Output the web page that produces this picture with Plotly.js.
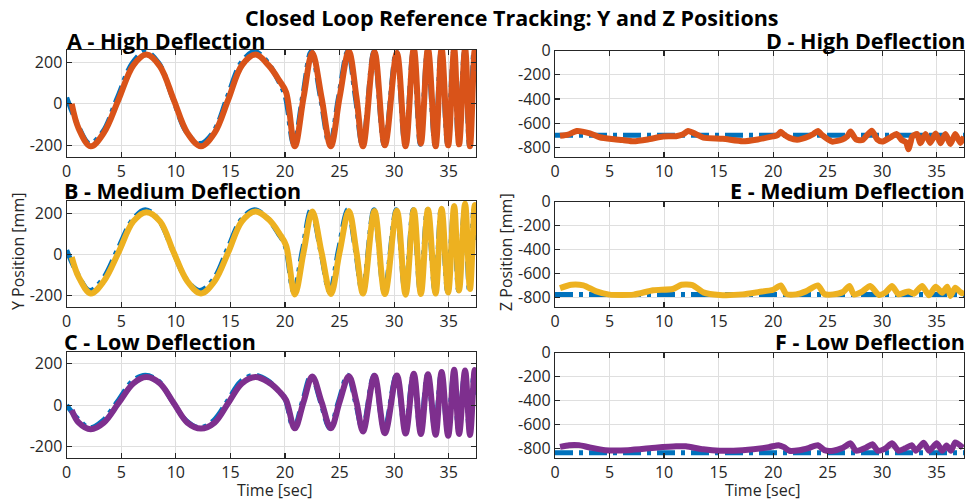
<!DOCTYPE html>
<html>
<head>
<meta charset="utf-8">
<script src="https://cdn.plot.ly/plotly-3.0.1.min.js"></script>
<style>html,body{margin:0;padding:0;background:#fff;}#chart{width:966px;height:502px;}</style>
</head>
<body>
<div id="chart"></div>
<script>
// ---- Data ----
const titleMain = "Closed Loop Reference Tracking: Y and Z Positions";
const panelTitles = ["A - High Deflection", "D - High Deflection", "B - Medium Deflection", "E - Medium Deflection", "C - Low Deflection", "F - Low Deflection"];
const xTicks = [0, 5, 10, 15, 20, 25, 30, 35];
const yTicksY = [-200, 0, 200];
const yTicksZ = [-800, -600, -400, -200, 0];

// time stamps (s) of reference Y points
const tYref = [0, 1.0, 2.1, 3.3, 4.65, 6.0, 7.2, 8.45, 9.7, 10.95, 12.2, 13.45, 14.7, 15.95, 17.2, 18.4, 19.4, 20.0, 20.8, 21.6, 22.4, 23.25, 24.1, 24.9, 25.75, 26.45, 27.1, 28.15, 29.1, 30.2, 31.0, 31.75, 32.4, 33.05, 33.75, 34.3, 34.9, 35.45, 35.9, 36.45, 36.9, 37.3, 37.5];
// time stamps (s) of measured Y points
const tYact = [0.46, 1.1, 2.2, 3.4, 4.75, 6.1, 7.3, 8.55, 9.8, 11.05, 12.3, 13.55, 14.8, 16.05, 17.3, 18.5, 19.5, 20.1, 20.9, 21.7, 22.5, 23.35, 24.2, 25.0, 25.85, 26.55, 27.15, 28.2, 29.15, 30.25, 31.05, 31.8, 32.45, 33.1, 33.8, 34.35, 34.95, 35.5, 35.95, 36.5, 36.95, 37.38, 37.55];

const yRefA = [30, -100, -192, -135, 30, 195, 252, 195, 30, -135, -192, -135, 30, 195, 252, 200, 110, 40, -195, 30, 252, 30, -198, 30, 252, 30, -200, 252, -200, 252, -200, 252, -195, 252, -200, 252, -195, 252, -185, 252, -200, 252, 100];
const yActA = [0, -120, -205, -140, 20, 185, 237, 180, 20, -140, -205, -140, 20, 185, 237, 185, 110, 55, -205, 30, 245, 30, -205, 30, 252, 30, -205, 250, -200, 245, -205, 265, -192, 265, -205, 265, -200, 265, -195, 265, -205, 255, 160];

const yRefB = [20, -95, -175, -120, 22, 165, 217, 165, 22, -120, -175, -120, 22, 165, 217, 175, 100, 45, -180, 22, 217, 22, -180, 22, 217, 22, -180, 217, -180, 217, -180, 217, -180, 217, -180, 217, -180, 217, -175, 217, -175, 217, 70];
const yActB = [-13, -110, -189, -130, 10, 160, 205, 160, 10, -130, -189, -130, 10, 160, 208, 170, 100, 43, -194, 10, 208, 10, -192, 10, 210, 10, -190, 210, -192, 212, -195, 215, -192, 218, -190, 222, -185, 235, -175, 246, -168, 240, 120];

const yRefC = [0, -65, -110, -75, 17, 115, 145, 115, 17, -75, -110, -75, 17, 115, 145, 120, 70, 30, -112, 17, 145, 17, -112, 17, 145, 17, -115, 145, -118, 145, -118, 145, -118, 145, -118, 145, -118, 145, -118, 145, -118, 145, 50];
const yActC = [-24, -85, -117, -85, 10, 105, 136, 105, 10, -85, -114, -85, 10, 105, 136, 110, 65, 24, -112, 15, 139, 15, -112, 15, 140, 15, -128, 142, -136, 144, -138, 152, -140, 150, -144, 160, -149, 171, -140, 168, -145, 170, 100];

// Z reference (constant set points)
const tZref = [0, 37.5];
const zRefD = [-700, -700];
const zRefE = [-777, -777];
const zRefF = [-837, -837];

// Z measured
const tZD = [0.46, 1.2, 2.0, 3.2, 4.1, 5.2, 6.2, 7.2, 8.5, 9.9, 11.1, 11.7, 12.2, 12.9, 13.6, 15.4, 17.2, 18.6, 19.96, 20.4, 20.7, 21.0, 21.5, 22.2, 23.3, 23.7, 24.1, 24.5, 25.4, 26.35, 26.8, 27.1, 27.6, 28.2, 29.04, 29.55, 30.0, 30.8, 31.3, 31.8, 32.2, 32.4, 32.6, 32.75, 33.2, 33.5, 33.97, 34.4, 34.9, 35.35, 35.8, 36.26, 36.7, 37.17, 37.5];
const zActD = [-705, -695, -665, -685, -717, -732, -740, -750, -735, -710, -708, -695, -665, -690, -720, -730, -750, -735, -710, -700, -672, -695, -722, -738, -708, -690, -665, -700, -753, -735, -710, -670, -735, -740, -662, -735, -753, -715, -690, -740, -760, -817, -760, -712, -690, -767, -690, -764, -686, -767, -690, -772, -690, -764, -712];

const tZE = [0.46, 1.5, 2.6, 3.8, 5.0, 7.2, 9.0, 10.8, 11.6, 12.6, 13.6, 15.1, 17.2, 18.7, 20.0, 20.7, 21.2, 22.1, 23.0, 24.1, 24.7, 25.5, 26.4, 27.0, 27.4, 28.1, 28.9, 29.7, 30.3, 30.9, 31.5, 32.0, 32.45, 32.9, 33.67, 34.28, 34.9, 35.5, 35.96, 36.26, 36.7, 37.3, 37.5];
const zActE = [-722, -694, -700, -750, -777, -777, -741, -730, -694, -697, -758, -780, -775, -755, -736, -700, -772, -775, -750, -700, -772, -775, -755, -705, -775, -755, -705, -780, -760, -705, -775, -760, -750, -770, -705, -783, -711, -761, -711, -788, -719, -766, -745];

const tZF = [0.46, 1.3, 2.2, 3.1, 4.6, 6.7, 9.2, 11.1, 12.0, 13.6, 15.1, 17.2, 19.6, 20.5, 21.0, 21.5, 22.4, 23.3, 24.1, 24.7, 25.5, 26.4, 27.1, 27.6, 28.5, 29.1, 29.6, 30.3, 30.9, 31.5, 32.1, 32.7, 33.1, 33.8, 34.3, 35.0, 35.5, 35.9, 36.3, 36.7, 37.4];
const zActF = [-787, -773, -773, -790, -815, -815, -795, -783, -783, -808, -820, -815, -790, -773, -790, -820, -815, -795, -773, -815, -820, -795, -758, -820, -795, -765, -820, -800, -758, -820, -800, -773, -820, -752, -820, -758, -820, -775, -820, -750, -795];

// ---- Styling ----
const cRef = "#0072BD";
const cHigh = "#D95319", cMed = "#EDB120", cLow = "#7E2F8E";
const FONT = "Open Sans, Noto Sans, sans-serif";
const refLine = {color: cRef, width: 5, dash: "18px,6px,4px,6px"};

function refTrace(x, y, xa, ya) {
  return {x: x, y: y, xaxis: xa, yaxis: ya, mode: "lines", line: Object.assign({shape: "spline", smoothing: 1}, refLine), hoverinfo: "skip", showlegend: false};
}
function actTrace(x, y, color, xa, ya, sm) {
  return {x: x, y: y, xaxis: xa, yaxis: ya, mode: "lines", line: {color: color, width: 6, shape: "spline", smoothing: sm}, hoverinfo: "skip", showlegend: false};
}

const data = [
  refTrace(tYref, yRefA, "x", "y"), actTrace(tYact, yActA, cHigh, "x", "y", 1),
  refTrace(tZref, zRefD, "x2", "y2"), actTrace(tZD, zActD, cHigh, "x2", "y2", 0.6),
  refTrace(tYref, yRefB, "x3", "y3"), actTrace(tYact, yActB, cMed, "x3", "y3", 1),
  refTrace(tZref, zRefE, "x4", "y4"), actTrace(tZE, zActE, cMed, "x4", "y4", 0.6),
  refTrace(tYref, yRefC, "x5", "y5"), actTrace(tYact, yActC, cLow, "x5", "y5", 1),
  refTrace(tZref, zRefF, "x6", "y6"), actTrace(tZF, zActF, cLow, "x6", "y6", 0.6)
];

const W = 966, H = 502;
const leftX = [66.7 / W, 476 / W];
const rightX = [555 / W, 964 / W];
function yd(top, bottom) { return [1 - bottom / H, 1 - top / H]; }

function xAx(domain, anchor) {
  return {domain: domain, anchor: anchor, range: [0, 37.5], tickvals: xTicks, ticktext: xTicks.map(String),
    showgrid: true, gridcolor: "#dfdfdf", gridwidth: 1, zeroline: false,
    showline: true, linecolor: "#262626", linewidth: 1.2, mirror: "ticks",
    ticks: "inside", ticklen: 5, tickcolor: "#262626", tickwidth: 1.2,
    tickfont: {family: FONT, size: 16, color: "#262626"}, fixedrange: true};
}
function yAx(domain, anchor, range, ticks) {
  return {domain: domain, anchor: anchor, range: range, tickvals: ticks, ticktext: ticks.map(String),
    showgrid: true, gridcolor: "#dfdfdf", gridwidth: 1, zeroline: false,
    showline: true, linecolor: "#262626", linewidth: 1.2, mirror: "ticks",
    ticks: "inside", ticklen: 5, tickcolor: "#262626", tickwidth: 1.2,
    tickfont: {family: FONT, size: 16, color: "#262626"}, fixedrange: true};
}

const yRangeY = [-255, 259];
const yRangeZ = [-878, 0];

function ann(text, xpx, ypx, xanchor, size, bold, angle) {
  return {text: bold ? "<b>" + text + "</b>" : text, x: xpx / W, y: 1 - ypx / H, xref: "paper", yref: "paper",
    xanchor: xanchor, yanchor: "middle", showarrow: false, textangle: angle || 0,
    font: {family: FONT, size: size, color: bold ? "#000000" : "#262626"}};
}

const layout = {
  width: W, height: H, margin: {l: 0, r: 0, t: 0, b: 0},
  paper_bgcolor: "#ffffff", plot_bgcolor: "#ffffff", showlegend: false,
  xaxis: xAx(leftX, "y"), yaxis: yAx(yd(50, 156.7), "x", yRangeY, yTicksY),
  xaxis2: xAx(rightX, "y2"), yaxis2: yAx(yd(50.7, 156.7), "x2", yRangeZ, yTicksZ),
  xaxis3: xAx(leftX, "y3"), yaxis3: yAx(yd(201, 307), "x3", yRangeY, yTicksY),
  xaxis4: xAx(rightX, "y4"), yaxis4: yAx(yd(201.7, 306.7), "x4", yRangeZ, yTicksZ),
  xaxis5: xAx(leftX, "y5"), yaxis5: yAx(yd(351.7, 457.7), "x5", yRangeY, yTicksY),
  xaxis6: xAx(rightX, "y6"), yaxis6: yAx(yd(352.7, 457.7), "x6", yRangeZ, yTicksZ),
  annotations: [
    ann(titleMain, 512, 18, "center", 21.5, true),
    ann(panelTitles[0], 65, 40, "left", 21.5, true),
    ann(panelTitles[1], 967, 40, "right", 21.5, true),
    ann(panelTitles[2], 62, 190, "left", 21.5, true),
    ann(panelTitles[3], 967, 190, "right", 21.5, true),
    ann(panelTitles[4], 62, 341, "left", 21.5, true),
    ann(panelTitles[5], 967, 341, "right", 21.5, true),
    ann("Y Position [mm]", 18, 252, "center", 16, false, -90),
    ann("Z Position [mm]", 506, 252, "center", 16, false, -90),
    ann("Time [sec]", 275, 490, "center", 16, false),
    ann("Time [sec]", 763, 490, "center", 16, false)
  ]
};

Plotly.newPlot("chart", data, layout, {displayModeBar: false, staticPlot: true});
</script>
</body>
</html>
